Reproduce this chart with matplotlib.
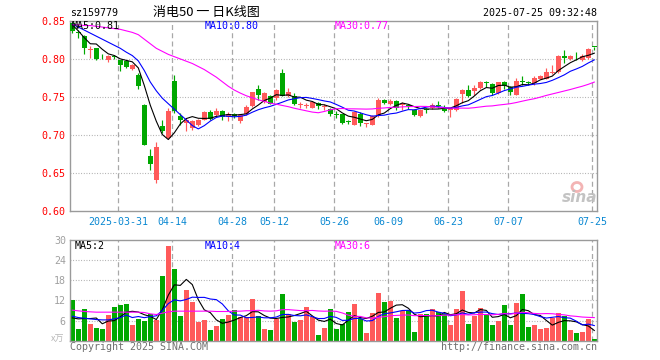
import numpy as np
import pandas as pd
import matplotlib
matplotlib.use('Agg')
import matplotlib.pyplot as plt
from matplotlib.patches import Ellipse

plt.rcParams['font.family'] = ['DejaVu Sans Mono', 'Noto Sans CJK SC']

# ---------------- data ----------------
tick_labels = ['2025-03-31', '04-14', '04-28', '05-12', '05-26', '06-09', '06-23', '07-07', '07-25']
tick_index = [8, 17, 27, 34, 44, 53, 63, 73, 87]

opens = [0.848, 0.836, 0.830, 0.812, 0.814, 0.803, 0.799, 0.8035, 0.798, 0.797,
         0.787, 0.779, 0.739, 0.672, 0.641, 0.711, 0.696, 0.771, 0.725, 0.716,
         0.709, 0.7135, 0.720, 0.730, 0.7266, 0.732, 0.724, 0.727, 0.718, 0.7275,
         0.7376, 0.761, 0.743, 0.7517, 0.7486, 0.7815, 0.751, 0.7517, 0.739, 0.7385,
         0.736, 0.742, 0.7365, 0.734, 0.7275, 0.727, 0.7175, 0.7135, 0.728, 0.714,
         0.7135, 0.7244, 0.746, 0.740, 0.745, 0.7395, 0.7385, 0.733, 0.7244, 0.7335,
         0.7354, 0.739, 0.7335, 0.733, 0.7324, 0.7543, 0.7595, 0.7574, 0.7618, 0.7697,
         0.767, 0.755, 0.7697, 0.7626, 0.753, 0.7714, 0.7685, 0.7684, 0.774, 0.774,
         0.782, 0.783, 0.8043, 0.800, 0.8025, 0.799, 0.8013, 0.8158]
highs = [0.851, 0.838, 0.832, 0.817, 0.815, 0.806, 0.805, 0.805, 0.799, 0.798,
         0.793, 0.781, 0.740, 0.681, 0.691, 0.720, 0.736, 0.779, 0.729, 0.722,
         0.719, 0.721, 0.732, 0.733, 0.736, 0.733, 0.730, 0.729, 0.727, 0.739,
         0.757, 0.766, 0.7565, 0.752, 0.761, 0.787, 0.762, 0.755, 0.743, 0.742,
         0.745, 0.743, 0.740, 0.735, 0.731, 0.728, 0.719, 0.731, 0.730, 0.716,
         0.7266, 0.748, 0.747, 0.747, 0.746, 0.743, 0.740, 0.734, 0.734, 0.736,
         0.742, 0.745, 0.739, 0.736, 0.748, 0.761, 0.766, 0.766, 0.771, 0.771,
         0.768, 0.770, 0.771, 0.764, 0.775, 0.777, 0.771, 0.777, 0.779, 0.788,
         0.7925, 0.805, 0.812, 0.805, 0.809, 0.806, 0.814, 0.816]
lows = [0.834, 0.828, 0.8065, 0.801, 0.798, 0.800, 0.796, 0.800, 0.784, 0.788,
        0.786, 0.761, 0.686, 0.6536, 0.637, 0.702, 0.694, 0.729, 0.713, 0.705,
        0.707, 0.712, 0.719, 0.720, 0.725, 0.720, 0.718, 0.722, 0.716, 0.726,
        0.737, 0.746, 0.742, 0.740, 0.746, 0.751, 0.750, 0.739, 0.736, 0.735,
        0.735, 0.7345, 0.733, 0.7253, 0.722, 0.7144, 0.714, 0.713, 0.7113, 0.7104,
        0.713, 0.724, 0.7405, 0.739, 0.733, 0.733, 0.734, 0.7245, 0.723, 0.729,
        0.734, 0.736, 0.730, 0.724, 0.731, 0.742, 0.750, 0.753, 0.761, 0.7625,
        0.753, 0.754, 0.761, 0.752, 0.752, 0.766, 0.765, 0.766, 0.773, 0.773,
        0.780, 0.782, 0.795, 0.799, 0.799, 0.797, 0.800, 0.812]
closes = [0.837, 0.834, 0.814, 0.8135, 0.800, 0.802, 0.804, 0.803, 0.7915, 0.790,
          0.7925, 0.764, 0.687, 0.6615, 0.6845, 0.705, 0.731, 0.731, 0.720, 0.720,
          0.718, 0.720, 0.730, 0.7215, 0.732, 0.724, 0.727, 0.725, 0.7255, 0.7363,
          0.7565, 0.753, 0.755, 0.741, 0.759, 0.7517, 0.7565, 0.7407, 0.740, 0.7395,
          0.743, 0.7376, 0.7375, 0.7275, 0.726, 0.7157, 0.7165, 0.730, 0.7157, 0.715,
          0.7244, 0.7464, 0.742, 0.745, 0.736, 0.740, 0.738, 0.7266, 0.733, 0.733,
          0.739, 0.7385, 0.731, 0.735, 0.7477, 0.7595, 0.7517, 0.7618, 0.7697, 0.7688,
          0.755, 0.7697, 0.764, 0.7565, 0.7714, 0.7697, 0.768, 0.775, 0.778, 0.783,
          0.783, 0.8043, 0.8013, 0.8035, 0.802, 0.8035, 0.8135, 0.8155]
volumes = [12.1, 3.5, 9.4, 5.0, 3.8, 3.5, 7.6, 10.0, 10.6, 10.9,
           4.7, 6.5, 6.0, 8.1, 6.2, 19.3, 28.2, 21.4, 7.3, 15.1,
           11.6, 5.7, 6.2, 3.2, 4.4, 6.4, 7.6, 9.1, 7.0, 7.2,
           12.4, 7.3, 3.6, 3.2, 6.6, 13.9, 8.1, 5.7, 6.1, 10.0,
           7.1, 1.7, 3.8, 9.5, 3.5, 5.0, 8.6, 10.9, 6.4, 2.2,
           8.3, 14.3, 11.6, 11.9, 6.9, 8.9, 9.1, 2.7, 8.1, 7.9,
           9.4, 8.6, 8.1, 4.7, 9.4, 14.9, 5.0, 7.3, 9.8, 8.1,
           4.7, 6.0, 10.6, 4.7, 11.3, 13.9, 4.2, 4.7, 3.5, 3.9,
           6.9, 8.3, 7.3, 3.2, 2.4, 2.7, 6.4, 0.5]

# moving-average values read off the chart where earlier history is not shown
ma5_head = [0.845, 0.837, 0.828, 0.820]
ma10_head = [0.846, 0.842, 0.838, 0.834, 0.830, 0.826, 0.822, 0.818, 0.814]
ma30_head = [0.845, 0.845, 0.844, 0.844, 0.843, 0.842, 0.841, 0.840, 0.839, 0.837,
             0.835, 0.832, 0.826, 0.820, 0.814, 0.810, 0.806, 0.803, 0.800, 0.797,
             0.794, 0.790, 0.786, 0.781, 0.776, 0.770, 0.764, 0.759, 0.755]
vma5_head = [6.8, 6.5, 6.6, 6.6]
vma10_head = [7.3, 6.9, 6.7, 6.5, 6.3, 6.2, 6.2, 6.5, 6.9]
vma30_head = [9.1, 8.9, 8.7, 8.6, 8.5, 8.5, 8.5, 8.5, 8.5, 8.5,
              8.5, 8.5, 8.4, 8.0, 7.8, 8.2, 8.6, 8.8, 8.8, 8.8,
              8.8, 8.8, 8.8, 8.8, 8.7, 8.7, 8.7, 8.8, 8.8]

price_ticks = [0.60, 0.65, 0.70, 0.75, 0.80, 0.85]
vol_ticks = [6, 12, 18, 24, 30]


def moving(vals, n, head):
    s = pd.Series(vals, dtype=float).rolling(n).mean().to_numpy()
    s[:len(head)] = head
    return s


ma5 = moving(closes, 5, ma5_head)
ma10 = moving(closes, 10, ma10_head)
ma30 = moving(closes, 30, ma30_head)
vma5 = moving(volumes, 5, vma5_head)
vma10 = moving(volumes, 10, vma10_head)
vma30 = moving(volumes, 30, vma30_head)

# ---------------- style ----------------
RED = '#ff5a5a'
GREEN = '#00a800'
GRID = '#a8a8a8'
SPINE = '#9a9a9a'
DATEC = '#0a88d2'

W, H = 660, 360
fig = plt.figure(figsize=(6.6, 3.6), dpi=100)


def fx(x):
    return x / W


def fy(y):
    return 1 - y / H


L, R = 70.3, 597.0
ax = fig.add_axes([fx(L), fy(210.7), (R - L) / W, (210.7 - 21.0) / H])
axv = fig.add_axes([fx(L), fy(340.7), (R - L) / W, (340.7 - 240.0) / H])

n = len(closes)
x = np.arange(n)
o = np.array(opens); h = np.array(highs); l = np.array(lows); c = np.array(closes)
up = c >= o
cols = np.where(up, RED, GREEN)

xlim = (-0.333, 87.45)
grid_x = [i - 0.33 for i in tick_index]

for a in (ax, axv):
    a.set_xlim(*xlim)
    for s in a.spines.values():
        s.set_color(SPINE)
        s.set_linewidth(1.0)
    for gx in grid_x:
        a.axvline(gx, color=GRID, linewidth=0.9, linestyle=(0, (4.0, 2.6)), zorder=0)
    a.tick_params(length=0)

# price panel
ax.set_ylim(0.60, 0.85)
for p in price_ticks[1:-1]:
    ax.axhline(p, color=GRID, linewidth=0.8, linestyle=(0, (0.8, 1.6)), zorder=0)
ax.vlines(x, l, h, colors=cols, linewidth=0.85, zorder=2)
body_h = np.maximum(np.abs(c - o), 0.0011)
body_b = np.minimum(o, c)
ax.bar(x, body_h, bottom=body_b, width=0.78, color=cols, linewidth=0, zorder=3)
ax.plot(x, ma5, color='black', linewidth=0.8, zorder=4)
ax.plot(x, ma10, color='#0000ff', linewidth=0.8, zorder=4)
ax.plot(x, ma30, color='#ff00ff', linewidth=0.8, zorder=4)

ax.set_yticks(price_ticks)
ax.set_yticklabels(['%.2f' % p for p in price_ticks], color='#ff0000', fontsize=7.2)
ax.tick_params(axis='y', pad=3.2)
ax.set_xticks(grid_x)
ax.set_xticklabels(tick_labels, color=DATEC, fontsize=7.2)
ax.tick_params(axis='x', pad=4.5)

# volume panel
axv.set_ylim(0, 30)
for v in vol_ticks[:-1]:
    axv.axhline(v, color=GRID, linewidth=0.8, linestyle=(0, (0.8, 1.6)), zorder=0)
axv.bar(x, volumes, width=0.78, color=cols, linewidth=0, zorder=2)
axv.plot(x, vma5, color='black', linewidth=0.8, zorder=4)
axv.plot(x, vma10, color='#0000ff', linewidth=0.8, zorder=4)
axv.plot(x, vma30, color='#ff00ff', linewidth=0.8, zorder=4)
axv.set_yticks(vol_ticks)
axv.set_yticklabels([str(v) for v in vol_ticks], color='#a0a0a0', fontsize=7.2)
axv.tick_params(axis='y', pad=3.2)
axv.set_xticks([])

# texts
fs = 7.2
fig.text(fx(70), fy(12.7), 'sz159779', fontsize=fs, color='black', va='center', ha='left')
fig.text(fx(206), fy(12.7), '消电50 一 日K线图', fontsize=9.4, color='black', va='center',
         ha='center', family=['Noto Sans CJK SC', 'DejaVu Sans'])
fig.text(fx(597), fy(12.7), '2025-07-25 09:32:48', fontsize=fs, color='black', va='center', ha='right')

fig.text(fx(71.7), fy(26.3), 'MA5:0.81', fontsize=fs, color='black', va='center', ha='left')
fig.text(fx(205), fy(26.3), 'MA10:0.80', fontsize=fs, color='#0000ff', va='center', ha='left')
fig.text(fx(334.3), fy(26.3), 'MA30:0.77', fontsize=fs, color='#ff00ff', va='center', ha='left')

fig.text(fx(74.5), fy(246.3), 'MA5:2', fontsize=fs, color='black', va='center', ha='left')
fig.text(fx(205), fy(246.3), 'MA10:4', fontsize=fs, color='#0000ff', va='center', ha='left')
fig.text(fx(334.3), fy(246.3), 'MA30:6', fontsize=fs, color='#ff00ff', va='center', ha='left')

fig.text(fx(64), fy(339), 'x万', fontsize=6.5, color='#b8b8b8', va='center', ha='right',
         family=['Noto Sans CJK SC', 'DejaVu Sans'], style='italic')
fig.text(fx(70), fy(346.5), 'Copyright 2025 SINA.COM', fontsize=fs, color='#707070', va='center', ha='left')
fig.text(fx(597), fy(346.5), 'http://finance.sina.com.cn', fontsize=fs, color='#707070', va='center', ha='right')

# sina watermark
fig.text(fx(580), fy(197), 'sina', fontsize=11, color='#bdbdbd', va='center', ha='center',
         family=['DejaVu Sans'], style='italic', weight='bold', alpha=0.9)
logo = Ellipse((fx(577), fy(187)), width=10 / W, height=9 / H, transform=fig.transFigure,
               facecolor='none', edgecolor='#f3b4b4', linewidth=2.0)
fig.add_artist(logo)

fig.savefig('out.png', dpi=100)
